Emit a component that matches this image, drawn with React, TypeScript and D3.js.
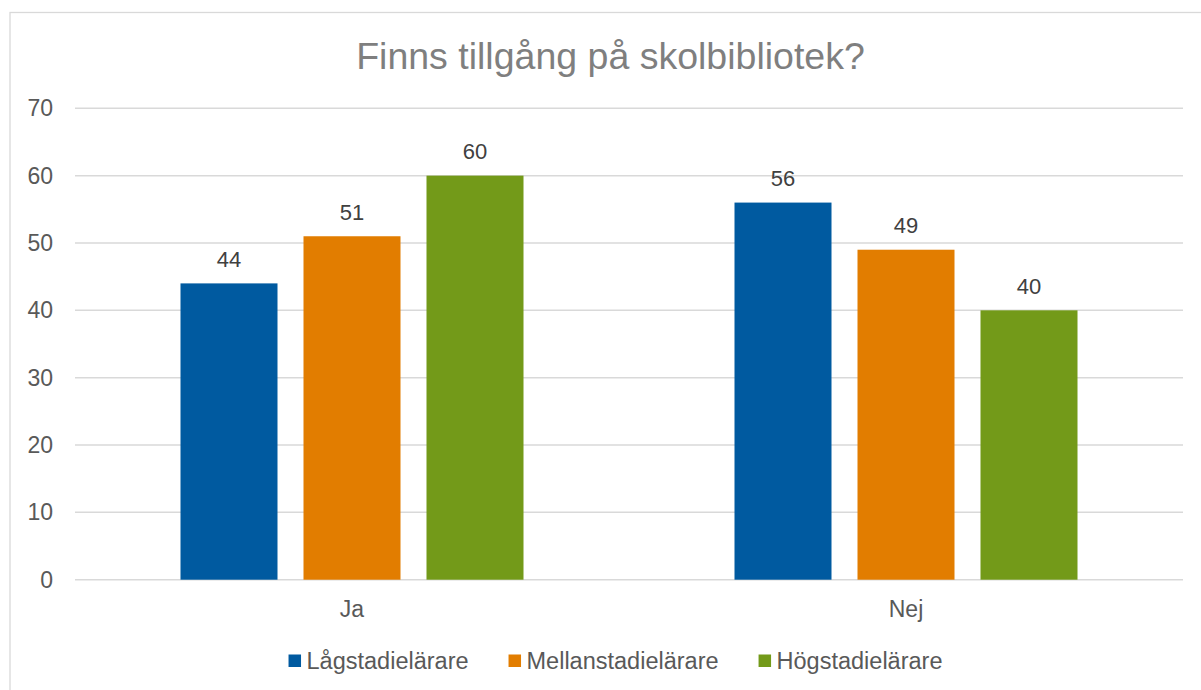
import React, { useEffect, useRef } from 'react';
import * as d3 from 'd3';

const categories = ['Ja', 'Nej'];
const seriesNames = ['Lågstadielärare', 'Mellanstadielärare', 'Högstadielärare'];
const lagValues = [44, 56];
const mellanValues = [51, 49];
const hogValues = [60, 40];
const yTicks = [0, 10, 20, 30, 40, 50, 60, 70];
const colors = ['#005AA0', '#E27D00', '#739A19'];

const FONT = '"Liberation Sans", Arial, sans-serif';

const App = () => {
  const ref = useRef<SVGSVGElement>(null);

  useEffect(() => {
    const svg = d3.select(ref.current);
    svg.selectAll('*').remove();

    const seriesValues = [lagValues, mellanValues, hogValues];
    const rows = categories.map((c, i) => ({
      cat: c,
      vals: seriesNames.map((s, j) => ({ name: s, value: seriesValues[j][i], color: colors[j] })),
    }));

    const x0 = d3.scaleBand<string>().domain(categories).range([75, 1183]);
    const x1 = d3
      .scaleBand<string>()
      .domain(seriesNames)
      .range([105.5, 448.5])
      .paddingInner(26 / 123);
    const y = d3.scaleLinear().domain([0, 70]).range([579.7, 108.3]);

    // chart frame
    svg
      .append('rect')
      .attr('x', 10)
      .attr('y', 12.5)
      .attr('width', 1400)
      .attr('height', 900)
      .attr('fill', '#fff')
      .attr('stroke', '#d9d9d9')
      .attr('stroke-width', 1.3);

    svg
      .append('text')
      .attr('x', 610.5)
      .attr('y', 69)
      .attr('text-anchor', 'middle')
      .attr('font-size', 37.5)
      .attr('fill', '#7f7f7f')
      .text('Finns tillgång på skolbibliotek?');

    // grid + y labels
    const grid = svg.append('g');
    grid
      .selectAll('line')
      .data(yTicks)
      .join('line')
      .attr('x1', 75)
      .attr('x2', 1183)
      .attr('y1', d => y(d))
      .attr('y2', d => y(d))
      .attr('stroke', '#d9d9d9')
      .attr('stroke-width', 1.5);
    grid
      .selectAll('text')
      .data(yTicks)
      .join('text')
      .attr('x', 53)
      .attr('y', d => y(d))
      .attr('dy', '0.35em')
      .attr('text-anchor', 'end')
      .attr('font-size', 23)
      .attr('fill', '#595959')
      .text(d => d);

    const groups = svg
      .append('g')
      .selectAll('g')
      .data(rows)
      .join('g')
      .attr('transform', d => `translate(${x0(d.cat)},0)`);

    groups
      .selectAll('rect')
      .data(d => d.vals)
      .join('rect')
      .attr('x', d => x1(d.name) as number)
      .attr('width', x1.bandwidth())
      .attr('y', d => y(d.value))
      .attr('height', d => y(0) - y(d.value))
      .attr('fill', d => d.color);

    groups
      .selectAll('text')
      .data(d => d.vals)
      .join('text')
      .attr('x', d => (x1(d.name) as number) + x1.bandwidth() / 2)
      .attr('y', d => y(d.value) - 16.5)
      .attr('text-anchor', 'middle')
      .attr('font-size', 22)
      .attr('fill', '#404040')
      .text(d => d.value);

    // category labels
    svg
      .append('g')
      .selectAll('text')
      .data(categories)
      .join('text')
      .attr('x', d => (x0(d) as number) + x0.bandwidth() / 2)
      .attr('y', 617)
      .attr('text-anchor', 'middle')
      .attr('font-size', 23)
      .attr('fill', '#595959')
      .text(d => d);

    // legend, centred under the chart
    const legend = svg.append('g');
    let offset = 0;
    seriesNames.forEach((name, i) => {
      legend
        .append('rect')
        .attr('x', offset)
        .attr('y', 654.5)
        .attr('width', 12.5)
        .attr('height', 12.5)
        .attr('fill', colors[i]);
      const t = legend
        .append('text')
        .attr('x', offset + 18)
        .attr('y', 668.5)
        .attr('font-size', 23.5)
        .attr('fill', '#595959')
        .text(name);
      const w = (t.node() as SVGTextElement).getComputedTextLength();
      offset += 18 + w + (i < seriesNames.length - 1 ? 40 : 0);
    });
    legend.attr('transform', `translate(${615.5 - offset / 2},0)`);
  }, []);

  return (
    <svg
      ref={ref}
      width={1201}
      height={690}
      style={{ position: 'absolute', left: 0, top: 0, fontFamily: FONT }}
    />
  );
};

export default App;
